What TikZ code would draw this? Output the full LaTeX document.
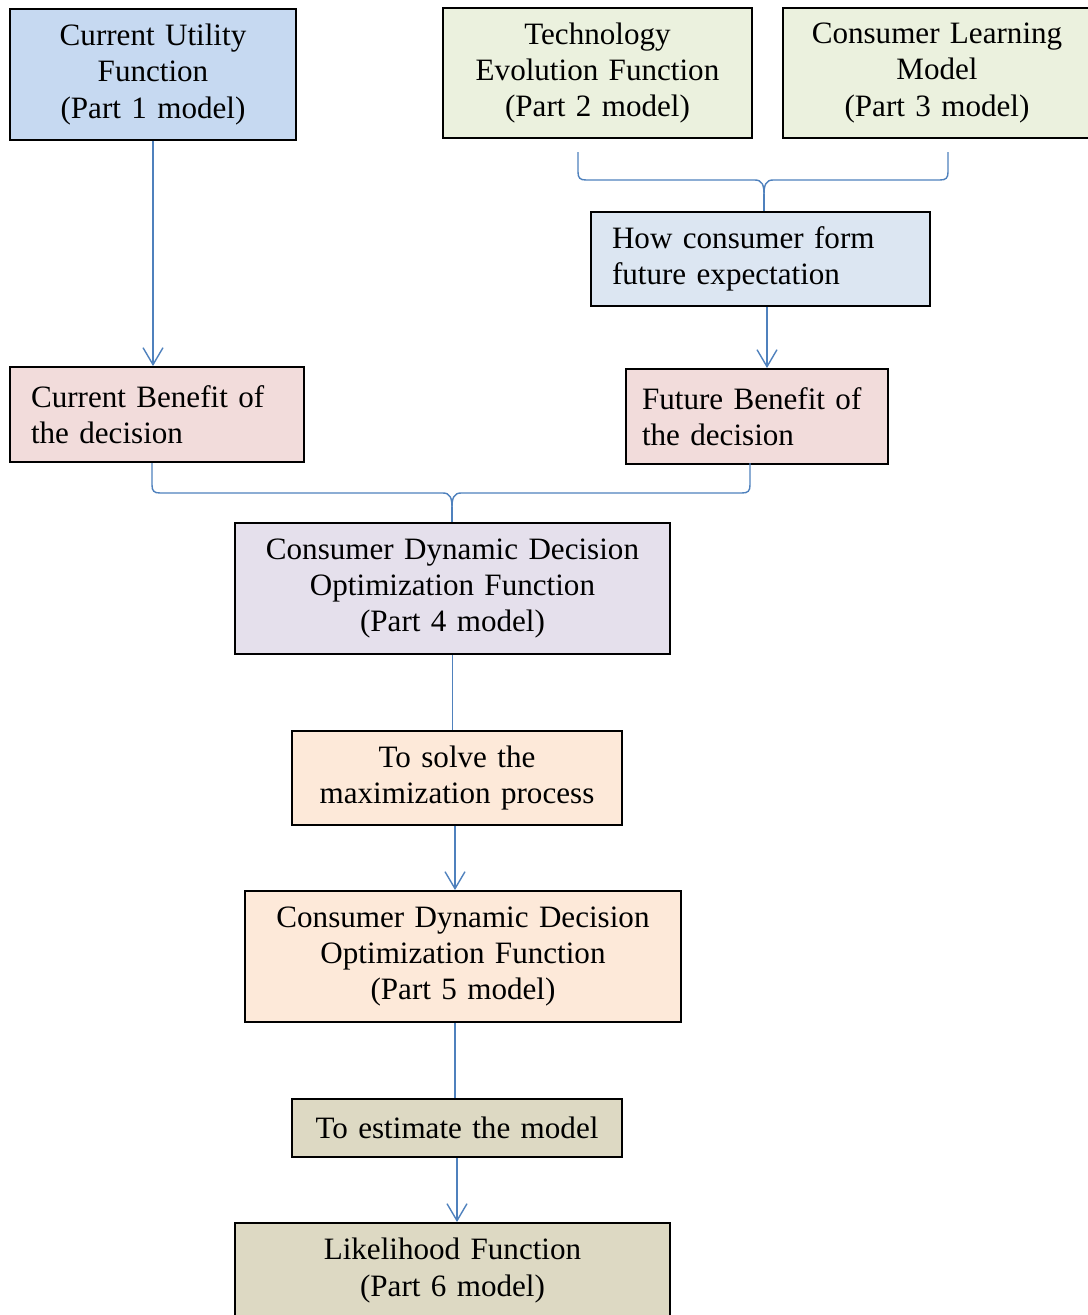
\documentclass[tikz,border=0pt]{standalone}
\usepackage{fontspec}
\setmainfont{Liberation Serif}
\usetikzlibrary{arrows.meta,calc,positioning}
\definecolor{linkblue}{HTML}{4F81BD}
\definecolor{fillcu}{HTML}{C6D9F1}
\definecolor{fillte}{HTML}{EBF1DE}
\definecolor{fillhc}{HTML}{DCE6F2}
\definecolor{fillcb}{HTML}{F2DCDB}
\definecolor{fillpf}{HTML}{E5E0EC}
\definecolor{fillts}{HTML}{FDE9D9}
\definecolor{fillle}{HTML}{DDD9C3}

\begin{document}
\begin{tikzpicture}
    [
        x=0.02cm, y=-0.02cm,
        box/.style={draw=black, line width=1.1pt, inner sep=0pt, align=center,
            font=\fontsize{17.7}{20.7}\selectfont},
        lbox/.style={box, align=left, inner xsep=0.42cm},
        link/.style={linkblue, line width=0.8pt},
        arr/.style={link, -{Straight Barb[length=0.34cm, width=0.4cm, line width=0.8pt]}}
    ]
%    \draw[style=help lines,step=50] (0,0) grid (1088,1315);
    % top row
    \node[box, fill=fillcu, text width=5.72cm, minimum height=2.62cm] (utility) at (153,74.5)
        {Current Utility\\Function\\(Part 1 model)};
    \node[box, fill=fillte, text width=6.18cm, minimum height=2.6cm] (techevo) at (597.5,73)
        {Technology\\Evolution Function\\(Part 2 model)};
    \node[box, fill=fillte, text width=6.16cm, minimum height=2.6cm] (learning) at (937,73)
        {Consumer Learning\\Model\\(Part 3 model)};

    % expectation and benefits
    \node[lbox, fill=fillhc, text width=5.94cm, minimum height=1.88cm] (expect) at (760.5,259)
        {How consumer form\\future expectation};
    \node[lbox, fill=fillcb, text width=5.04cm, minimum height=1.9cm] (curben) at (157,414.5)
        {Current Benefit of\\the decision};
    \node[lbox, fill=fillcb, text width=4.6cm, inner xsep=0.32cm, minimum height=1.9cm] (futben) at (757,416.5)
        {Future Benefit of\\the decision};

    % optimization chain
    \node[box, fill=fillpf, text width=8.7cm, minimum height=2.62cm] (partfour) at (452.5,588.5)
        {Consumer Dynamic Decision\\Optimization Function\\(Part 4 model)};
    \node[box, fill=fillts, text width=6.6cm, minimum height=1.88cm] (solve) at (457,778)
        {To solve the\\maximization process};
    \node[box, fill=fillts, text width=8.72cm, minimum height=2.62cm] (partfive) at (463,956.5)
        {Consumer Dynamic Decision\\Optimization Function\\(Part 5 model)};
    \node[box, fill=fillle, text width=6.6cm, minimum height=1.16cm] (estimate) at (457,1128)
        {To estimate the model};
    \node[box, fill=fillle, text width=8.7cm, minimum height=1.9cm] (likeli) at (452.5,1270.5)
        {Likelihood Function\\(Part 6 model)};

    % brace ends
    \coordinate (tb1) at (578,152);
    \coordinate (tb2) at (948,152);
    \coordinate (tcusp) at (764,194);
    \coordinate (bb1) at (152,463);
    \coordinate (bb2) at (750,463);
    \coordinate (bcusp) at (452,507);

    % connectors
    \draw[arr] (utility.south) -- (utility.south |- curben.north);
    \draw[arr] (expect.south -| 767,0) -- (futben.north -| 767,0);
    \draw[link] (tb1) -- ++(0,20) .. controls +(0,6) and +(-6,0) .. ++(8,8)
        -- ($(tcusp)+(-9,-14)$) .. controls +(7,0) and +(0,-9) .. (tcusp);
    \draw[link] (tb2) -- ++(0,20) .. controls +(0,6) and +(6,0) .. ++(-8,8)
        -- ($(tcusp)+(9,-14)$) .. controls +(-7,0) and +(0,-9) .. (tcusp);
    \draw[link] (tcusp) -- (tcusp |- expect.north);
    \draw[link] (bb1) -- ++(0,22) .. controls +(0,6) and +(-6,0) .. ++(8,8)
        -- ($(bcusp)+(-9,-14)$) .. controls +(7,0) and +(0,-9) .. (bcusp);
    \draw[link] (bb2) -- ++(0,22) .. controls +(0,6) and +(6,0) .. ++(-8,8)
        -- ($(bcusp)+(9,-14)$) .. controls +(-7,0) and +(0,-9) .. (bcusp);
    \draw[link] (bcusp) -- (bcusp |- partfour.north);
    \draw[link] (partfour.south) -- (partfour.south |- solve.north);
    \draw[arr] (solve.south -| 455,0) -- (partfive.north -| 455,0);
    \draw[link] (partfive.south -| 455,0) -- (estimate.north -| 455,0);
    \draw[arr] (estimate.south) -- (likeli.north -| estimate.south);

    \pgfresetboundingbox
    \useasboundingbox (0,0) rectangle (1088,1315);
\end{tikzpicture}
\end{document}
